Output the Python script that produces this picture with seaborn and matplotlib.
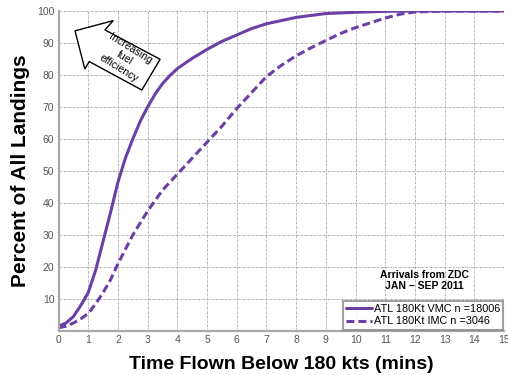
import matplotlib
matplotlib.use("Agg")
import matplotlib.pyplot as plt
import seaborn as sns
import pandas as pd
from matplotlib.patches import Polygon

# ---------------- data ----------------
vmc_x = [0, 0.25, 0.5, 0.75, 1, 1.25, 1.5, 1.75, 2, 2.25, 2.5, 2.75, 3, 3.25, 3.5,
         3.75, 4, 4.5, 5, 5.5, 6, 6.5, 7, 7.5, 8, 9, 10, 11, 12, 13, 14, 15]
vmc_y = [1.5, 2.5, 4.5, 8, 12, 19, 28, 37, 46.5, 54, 60, 65.5, 70, 74, 77.3,
         79.8, 82, 85.2, 88, 90.5, 92.5, 94.5, 96, 97, 98, 99.2, 99.6, 99.9,
         100, 100, 100, 100]

imc_x = [0, 0.25, 0.5, 0.75, 1, 1.25, 1.5, 1.75, 2, 2.5, 3, 3.5, 4, 4.5, 5, 5.5,
         6, 6.5, 7, 7.5, 8, 8.5, 9, 9.5, 10, 10.5, 11, 11.5, 12, 13, 14, 15]
imc_y = [1, 1.5, 2.5, 3.8, 5.5, 8.5, 12, 16, 21, 30, 37.5, 44, 49, 54, 59, 64,
         69.5, 74.5, 79.5, 83, 86, 88.5, 90.8, 93, 94.8, 96.3, 97.8, 99, 99.7,
         100, 100, 100]

vmc_label = "ATL 180Kt VMC n =18006"
imc_label = "ATL 180Kt IMC n =3046"
legend_title = "Arrivals from ZDC\nJAN \u2013 SEP 2011"
x_ticks = list(range(0, 16))
y_ticks = list(range(0, 101, 10))
y_tick_labels = [""] + [str(v) for v in y_ticks[1:]]
x_label = "Time Flown Below 180 kts (mins)"
y_label = "Percent of All Landings"
note = "Increasing\nfuel\nefficiency"

# ---------------- style ----------------
sns.set_theme(style="white")
plt.rcParams["font.family"] = ["Liberation Sans", "DejaVu Sans"]
plt.rcParams["text.color"] = "black"
plt.rcParams["axes.labelcolor"] = "black"

purple = "#6a3fa6"

fig = plt.figure(figsize=(5.08, 3.75), dpi=100)
ax = fig.add_axes([0.1152, 0.1173, 0.877, 0.8534])

df_v = pd.DataFrame({"x": vmc_x, "y": vmc_y})
df_i = pd.DataFrame({"x": imc_x, "y": imc_y})
sns.lineplot(data=df_v, x="x", y="y", ax=ax, color=purple, lw=2.2,
             label=vmc_label)
sns.lineplot(data=df_i, x="x", y="y", ax=ax, color=purple, lw=2.2,
             label=imc_label)
ax.lines[1].set_dashes((2.6, 1.3))

ax.set_xlim(0, 15)
ax.set_ylim(0, 100)
ax.set_xticks(x_ticks)
ax.set_yticks(y_ticks)
ax.set_yticklabels(y_tick_labels)
ax.tick_params(axis="both", length=0, labelsize=7.5, labelcolor="#555555",
               pad=3)
ax.grid(True, color="#aaaaaa", linestyle=(0, (2, 1, 0.6, 1)), lw=0.7)
for s in ["top", "right"]:
    ax.spines[s].set_visible(False)
for s in ["left", "bottom"]:
    ax.spines[s].set_color("#aaaaaa")
    ax.spines[s].set_linewidth(1.6)

ax.set_xlabel(x_label, fontsize=14, fontweight="bold", labelpad=8,
              color="black")
ax.set_ylabel(y_label, fontsize=15, fontweight="bold", labelpad=5,
              color="black")

leg = ax.legend(loc="lower right", bbox_to_anchor=(0.998, 0.004),
                fontsize=7.8, frameon=True, fancybox=False,
                handlelength=2.4, handletextpad=0.15, borderpad=0.3,
                labelspacing=0.25, borderaxespad=0)
leg.get_frame().set_edgecolor("#888888")
leg.get_frame().set_linewidth(1.5)
for t in leg.get_texts():
    t.set_color("black")
ax.text(0.822, 0.158, legend_title, transform=ax.transAxes, ha="center",
        va="center", fontsize=7.5, fontweight="bold", linespacing=1.1,
        color="black")

# annotation arrow
arrow_pts = [(0.037, 0.938), (0.123, 0.970), (0.104, 0.941), (0.228, 0.849),
             (0.187, 0.753), (0.069, 0.842), (0.059, 0.819)]
ax.add_patch(Polygon(arrow_pts, closed=True, transform=ax.transAxes,
                     facecolor="white", edgecolor="black", lw=1.0, zorder=5))
ax.text(0.148, 0.852, note, transform=ax.transAxes, rotation=-32,
        rotation_mode="anchor", ha="center", va="center", fontsize=7.6,
        linespacing=1.2, zorder=6, color="black")

fig.savefig("out.png", dpi=100)
